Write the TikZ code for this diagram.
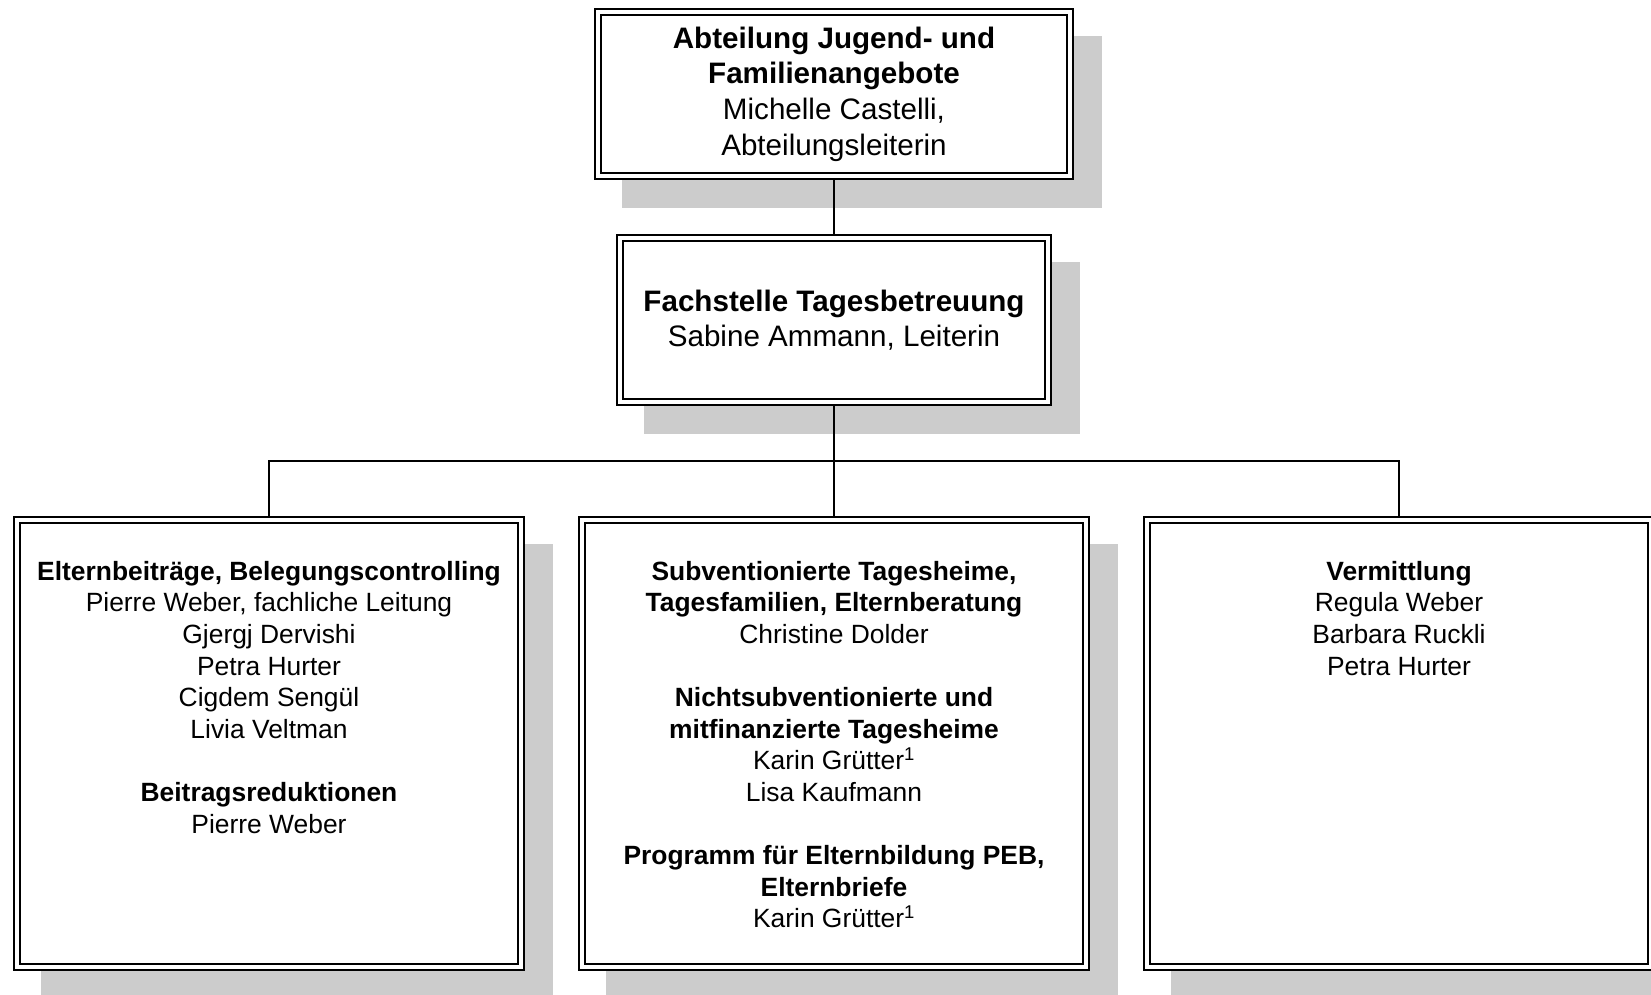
\documentclass[tikz,border=0pt]{standalone}
\usepackage{fontspec}
\setmainfont{Liberation Sans}
\usetikzlibrary{calc}
\pgfdeclarelayer{shadowlayer}
\pgfdeclarelayer{linelayer}
\pgfsetlayers{shadowlayer,linelayer,main}
\definecolor{shadowgray}{HTML}{CCCCCC}
\begin{document}
\begin{tikzpicture}[x=1pt,y=-1pt,
  orgbox/.style={rectangle, draw=black, double=white, line width=2pt,
    double distance=4pt, fill=white, inner sep=0pt, outer sep=0pt},
  topfont/.style={font=\fontsize{29.6}{35.6}\selectfont},
  botfont/.style={font=\fontsize{26.4}{31.6}\selectfont},
  boxtext/.style={botfont, align=center, anchor=north, inner sep=0pt},
  conn/.style={draw=black, line width=2pt},
  shadowfill/.style={fill=shadowgray}
]
\useasboundingbox (0,0) rectangle (1651,994);

% boxes
\node[orgbox, topfont, align=center, minimum width=472pt, minimum height=164pt]
  (abt) at (834,94)
  {\textbf{Abteilung Jugend- und}\\\textbf{Familienangebote}\\Michelle Castelli,\\Abteilungsleiterin};

\node[orgbox, topfont, align=center, minimum width=428pt, minimum height=164pt]
  (fach) at (834,320)
  {\textbf{Fachstelle Tagesbetreuung}\\Sabine Ammann, Leiterin};

\node[orgbox, minimum width=504pt, minimum height=447pt] (elt) at (269,743.5) {};
\node[orgbox, minimum width=504pt, minimum height=447pt] (sub) at (834,743.5) {};
\node[orgbox, minimum width=504pt, minimum height=447pt] (verm) at (1399,743.5) {};

% texts of the lower boxes
\node[boxtext] (elttext) at ($(elt.north)+(0,38)$)
  {\strut\textbf{Elternbeiträge, Belegungscontrolling}\\
   Pierre Weber, fachliche Leitung\\
   Gjergj Dervishi\\
   Petra Hurter\\
   Cigdem Sengül\\
   Livia Veltman\\
   \mbox{}\\
   \textbf{Beitragsreduktionen}\\
   Pierre Weber};

\node[boxtext] (subtext) at ($(sub.north)+(0,38)$)
  {\strut\textbf{Subventionierte Tagesheime,}\\
   \textbf{Tagesfamilien, Elternberatung}\\
   Christine Dolder\\
   \mbox{}\\
   \textbf{Nichtsubventionierte und}\\
   \textbf{mitfinanzierte Tagesheime}\\
   Karin Grütter\textsuperscript{1}\\
   Lisa Kaufmann\\
   \mbox{}\\
   \textbf{Programm für Elternbildung PEB,}\\
   \textbf{Elternbriefe}\\
   Karin Grütter\textsuperscript{1}};

\node[boxtext] (vermtext) at ($(verm.north)+(0,38)$)
  {\strut\textbf{Vermittlung}\\
   Regula Weber\\
   Barbara Ruckli\\
   Petra Hurter};

% connectors
\coordinate (bus) at (834,461);
\begin{pgfonlayer}{linelayer}
  \draw[conn] (abt.south) -- (fach.north);
  \draw[conn] (fach.south) -- (sub.north);
  \draw[conn] (elt.north) |- (bus) -| (verm.north);
\end{pgfonlayer}

% shadows
\begin{pgfonlayer}{shadowlayer}
  \foreach \n in {abt,fach,elt,sub,verm}
    \fill[shadowfill] ($(\n.north west)+(24,24)$) rectangle ($(\n.south east)+(32,32)$);
\end{pgfonlayer}
\end{tikzpicture}
\end{document}
